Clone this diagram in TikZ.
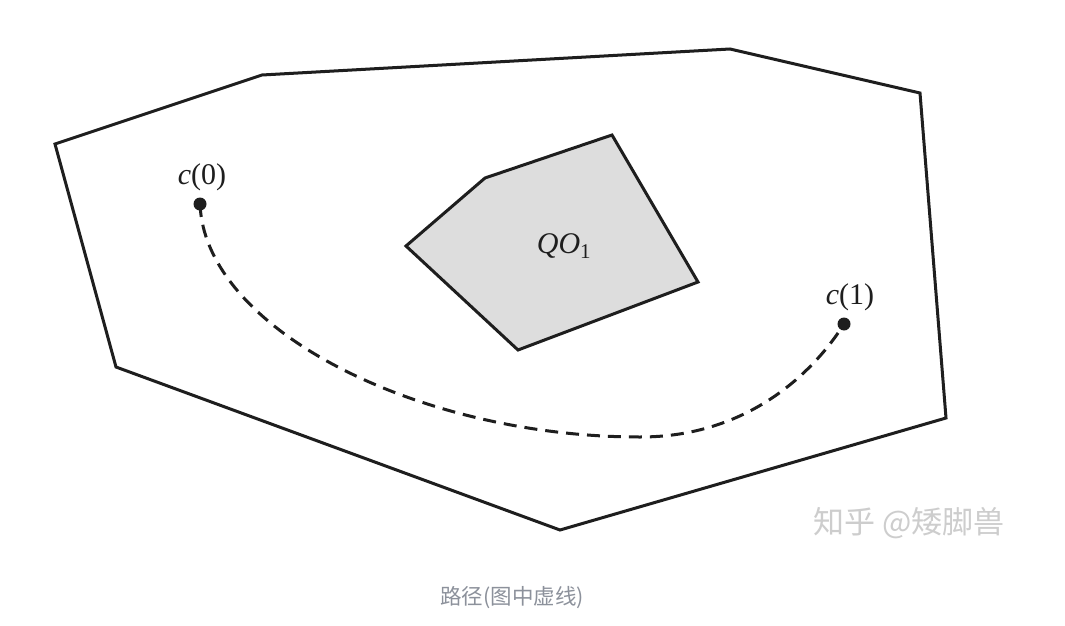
\documentclass[tikz,border=0pt]{standalone}
\usepackage{fontspec}
\newfontfamily\cjk{Noto Sans CJK SC}
\newfontfamily\tms{Liberation Serif}
\definecolor{polyfill}{RGB}{221,221,221}
\definecolor{ink}{RGB}{30,30,30}
\definecolor{wm}{RGB}{205,205,205}
\definecolor{cap}{RGB}{140,145,155}
\begin{document}
\begin{tikzpicture}[x=1pt,y=-1pt,
  edge/.style={draw=ink,line width=3pt,line join=miter},
  dot/.style={circle,fill=ink,inner sep=0pt,minimum size=13pt},
  lbl/.style={font=\tms\fontsize{30}{34}\selectfont,text=ink},
  pathline/.style={draw=ink,line width=3pt,dash pattern=on 13pt off 8pt}]
\useasboundingbox (0,0) rectangle (1065,626);
\fill[white] (0,0) rectangle (1065,626);
% outer region
\draw[edge] (55,144) -- (262,75) -- (730,49) -- (920,93) -- (946,418) -- (560,530) -- (116,367) -- cycle;
% obstacle
\draw[edge,fill=polyfill] (406,246) -- (485,178) -- (612,135) -- (698,282) -- (518,350) -- cycle;
\node[lbl] (qo) at (564,246) {\textit{QO}\textsubscript{1}};
% points
\node[dot] (c0) at (200,204) {};
\node[dot] (c1) at (844,324) {};
\node[lbl] (l0) at (202,177) {\textit{c}(0)};
\node[lbl] (l1) at (850,297) {\textit{c}(1)};
\coordinate (low) at (640,437);
\draw[pathline] (c0.center) .. controls (205,330) and (420,437) .. (low)
  .. controls (750,437) and (815,370) .. (c1.center);
% watermark and caption
\node[font=\cjk\fontsize{31}{34}\selectfont,text=wm] (wmk) at (909,523) {知乎 @矮脚兽};
\node[font=\cjk\fontsize{21.5}{24}\selectfont,text=cap] (capt) at (512,598) {路径(图中虚线)};
\end{tikzpicture}
\end{document}
